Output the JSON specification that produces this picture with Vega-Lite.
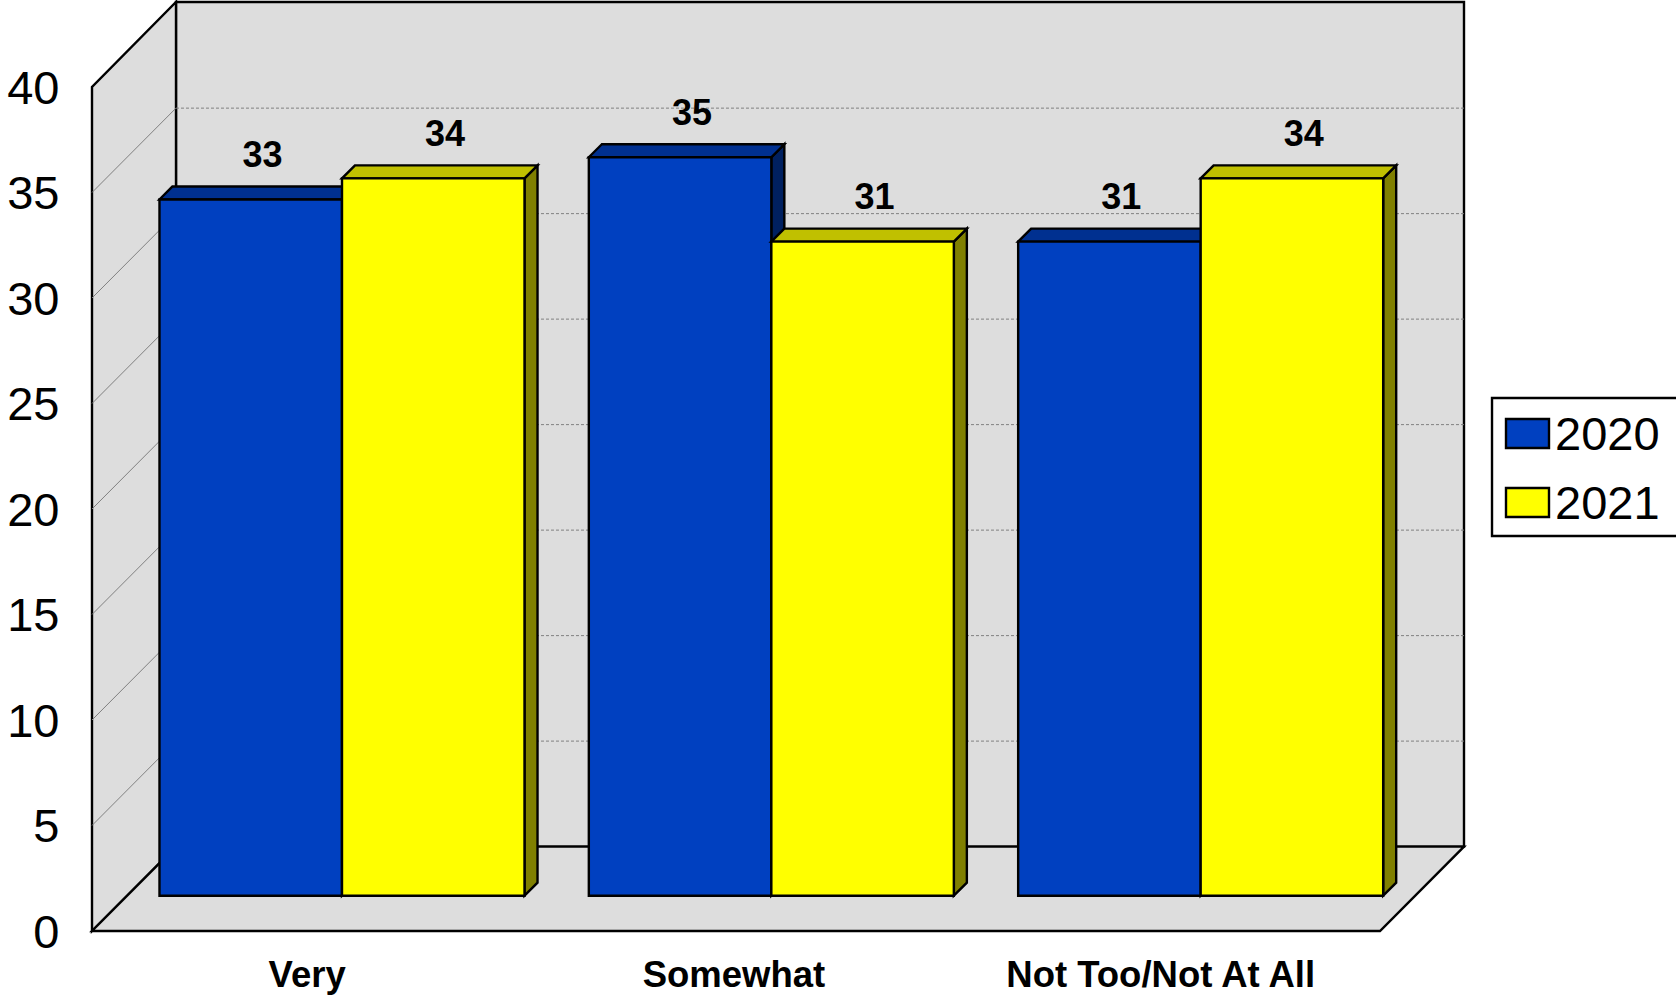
{
"$schema":"https://vega.github.io/schema/vega-lite/v6.json",
"width":1372,"height":929,
"autosize":{"type":"none"},
"padding":{"left":92,"top":2,"right":212,"bottom":65},
"background":"white",
"config":{"view":{"stroke":null},"font":"Liberation Sans"},
"datasets":{
"bars":[
{"category":"Very","series":"2020","value":33},
{"category":"Very","series":"2021","value":34},
{"category":"Somewhat","series":"2020","value":35},
{"category":"Somewhat","series":"2021","value":31},
{"category":"Not Too/Not At All","series":"2020","value":31},
{"category":"Not Too/Not At All","series":"2021","value":34}],
"ticks":[{"v":5},{"v":10},{"v":15},{"v":20},{"v":25},{"v":30},{"v":35}],
"depths":[{"depth":0},{"depth":1}],
"one":[{"panel":"frame"}]
},
"layer":[
{"data":{"name":"one"},"mark":{"type":"rect","fill":"#DDDDDD","stroke":"#000000","strokeWidth":2.4},
"encoding":{
"x":{"datum":0.19565,"type":"quantitative","scale":{"domain":[0,3.19565],"nice":false,"zero":false},
"axis":{"title":null,"values":[0.5,1.494,2.488],"labelExpr":"datum.value<1?'Very':datum.value<2?'Somewhat':'Not Too/Not At All'","domain":false,"ticks":false,"grid":false,"labelFontSize":36.5,"labelFontWeight":"bold","labelColor":"#000000","labelPadding":26.5,"labelFont":"Liberation Sans","labelOverlap":false,"labelFlush":false,"labelLimit":500}},
"x2":{"datum":3.19565},
"y":{"datum":4.0,"type":"quantitative","scale":{"domain":[0,44.03],"nice":false,"zero":false},
"axis":{"title":null,"values":[0,5,10,15,20,25,30,35,40],"domain":false,"ticks":false,"grid":false,"labelFontSize":47,"labelColor":"#000000","labelPadding":33,"labelOffset":2,"labelFont":"Liberation Sans","labelOverlap":false,"labelFlush":false}},
"y2":{"datum":44.03}}},
{"data":{"name":"depths"},
"transform":[{"calculate":"datum.depth*0.19565","as":"wx"},{"calculate":"datum.depth*4.0","as":"wlow"},{"calculate":"40+datum.depth*4.03","as":"whigh"}],
"mark":{"type":"area","fill":"#DDDDDD","stroke":"#000000","strokeWidth":2.4},
"encoding":{"x":{"field":"wx","type":"quantitative"},"y":{"field":"wlow","type":"quantitative"},"y2":{"field":"whigh"}}},
{"data":{"name":"ticks"},
"transform":[{"calculate":"datum.v+4.0","as":"back"}],
"mark":{"type":"rule","stroke":"#808080","strokeWidth":1,"strokeDash":[3,2]},
"encoding":{"x":{"datum":0.19565,"type":"quantitative"},"x2":{"datum":3.19565},"y":{"field":"back","type":"quantitative"}}},
{"data":{"name":"ticks"},
"transform":[{"calculate":"datum.v+4.0","as":"back"}],
"mark":{"type":"rule","stroke":"#808080","strokeWidth":1},
"encoding":{"x":{"datum":0,"type":"quantitative"},"x2":{"datum":0.19565},"y":{"field":"v","type":"quantitative"},"y2":{"field":"back"}}},
{"data":{"name":"depths"},
"transform":[{"calculate":"datum.depth*0.19565","as":"fx"},{"calculate":"3+datum.depth*0.19565","as":"fx2"},{"calculate":"datum.depth*4.0","as":"fy"}],
"mark":{"type":"area","orient":"horizontal","fill":"#DDDDDD","stroke":"#000000","strokeWidth":2.4},
"encoding":{"y":{"field":"fy","type":"quantitative"},"x":{"field":"fx","type":"quantitative"},"x2":{"field":"fx2"}}},
{"data":{"name":"bars"},
"transform":[
{"calculate":"indexof(['Very','Somewhat','Not Too/Not At All'],datum.category)+0.1572+(datum.series==='2020'?0:0.4251)","as":"x0"},
{"calculate":"datum.x0+0.4251","as":"x1"},
{"calculate":"datum.x0+0.2126+0.0275","as":"xLabel"},
{"calculate":"1.673","as":"base"},
{"calculate":"datum.base+datum.value","as":"yTop"},
{"calculate":"datum.yTop+1.55","as":"yLabel"},
{"calculate":"[0,1]","as":"depth"},
{"flatten":["depth"]},
{"calculate":"datum.x1+datum.depth*0.0303","as":"sx"},
{"calculate":"datum.base+datum.depth*0.616","as":"slow"},
{"calculate":"datum.yTop+datum.depth*0.616","as":"shigh"},
{"calculate":"datum.x0+datum.depth*0.0303","as":"ta"}
],
"layer":[
{"transform":[{"filter":"datum.series==='2020'"}],
"layer":[
{"mark":{"type":"area","fill":"#002060","stroke":"#000000","strokeWidth":2.4},
"encoding":{"detail":{"field":"category"},"x":{"field":"sx","type":"quantitative"},"y":{"field":"slow","type":"quantitative"},"y2":{"field":"shigh"}}},
{"mark":{"type":"area","orient":"horizontal","fill":"#003090","stroke":"#000000","strokeWidth":2.4},
"encoding":{"detail":{"field":"category"},"y":{"field":"shigh","type":"quantitative"},"x":{"field":"ta","type":"quantitative"},"x2":{"field":"sx"}}},
{"transform":[{"filter":"datum.depth===0"}],
"mark":{"type":"rect","stroke":"#000000","strokeWidth":2.4},
"encoding":{"x":{"field":"x0","type":"quantitative"},"x2":{"field":"x1"},"y":{"field":"base","type":"quantitative"},"y2":{"field":"yTop"},
"fill":{"field":"series","type":"nominal","scale":{"domain":["2020","2021"],"range":["#0040C0","#FFFF00"]},
"legend":{"title":null,"orient":"none","legendX":1400,"legendY":398,"padding":12,"rowPadding":21,"labelFontSize":47,"labelColor":"#000000","labelOffset":4,"labelFont":"Liberation Sans","symbolType":"M-1,-0.767H1V0.581H-1Z","symbolSize":1849,"symbolStrokeColor":"#000000","symbolStrokeWidth":2.4}}}}
]},
{"transform":[{"filter":"datum.series==='2021'"}],
"layer":[
{"mark":{"type":"area","fill":"#808000","stroke":"#000000","strokeWidth":2.4},
"encoding":{"detail":{"field":"category"},"x":{"field":"sx","type":"quantitative"},"y":{"field":"slow","type":"quantitative"},"y2":{"field":"shigh"}}},
{"mark":{"type":"area","orient":"horizontal","fill":"#C0C000","stroke":"#000000","strokeWidth":2.4},
"encoding":{"detail":{"field":"category"},"y":{"field":"shigh","type":"quantitative"},"x":{"field":"ta","type":"quantitative"},"x2":{"field":"sx"}}},
{"transform":[{"filter":"datum.depth===0"}],
"mark":{"type":"rect","stroke":"#000000","strokeWidth":2.4},
"encoding":{"x":{"field":"x0","type":"quantitative"},"x2":{"field":"x1"},"y":{"field":"base","type":"quantitative"},"y2":{"field":"yTop"},
"fill":{"field":"series","type":"nominal"}}}
]},
{"transform":[{"filter":"datum.depth===0"}],
"mark":{"type":"text","fontSize":36,"fontWeight":"bold","font":"Liberation Sans","align":"center","baseline":"alphabetic","fill":"#000000"},
"encoding":{"x":{"field":"xLabel","type":"quantitative"},"y":{"field":"yLabel","type":"quantitative"},"text":{"field":"value","type":"quantitative"}}}
]},
{"data":{"name":"one"},"mark":{"type":"rect","fill":null,"stroke":"#000000","strokeWidth":2.4,"clip":false},
"encoding":{"x":{"datum":3.2609,"type":"quantitative"},"x2":{"datum":3.70},"y":{"datum":25.26,"type":"quantitative"},"y2":{"datum":18.72}}}
]
}
